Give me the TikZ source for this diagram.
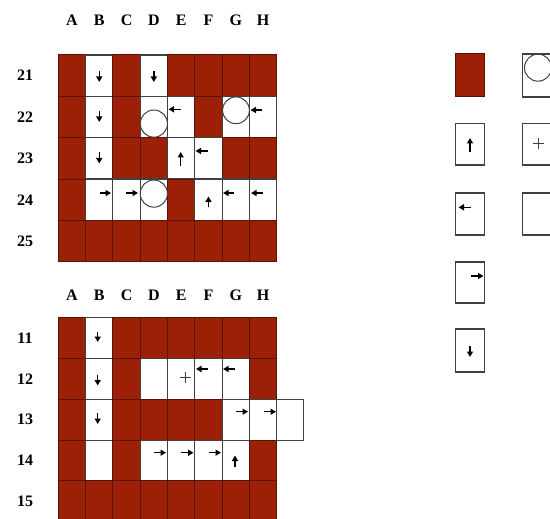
\documentclass[tikz,border=0pt]{standalone}
\usepackage{fontspec}
\setmainfont{Liberation Serif}[BoldFont={Liberation Serif Bold}]
\usetikzlibrary{arrows.meta}
\definecolor{brick}{RGB}{155,32,6}
\definecolor{brickline}{RGB}{85,20,10}
\definecolor{gline}{RGB}{65,65,65}
\begin{document}
\begin{tikzpicture}[x=1pt,y=-1pt,
  cellb/.style={fill=brick,draw=brickline,line width=1pt},
  cellw/.style={fill=white,draw=gline,line width=1.1pt},
  legb/.style={fill=white,draw=gline,line width=1.4pt},
  arr/.style={line width=1.4pt,-{Triangle[length=5.5pt,width=6pt]}},
  circ/.style={draw=gline,line width=1pt},
  lab/.style={font=\bfseries\fontsize{16}{16}\selectfont,inner sep=0pt}]
\useasboundingbox (0,0) rectangle (550,519);
\clip (0,0) rectangle (550,519);
\def\cw{27.3}
% ---------- top grid ----------
\foreach \row [count=\j from 0] in {{b,w,b,w,b,b,b,b},{b,w,b,w,w,b,w,w},{b,w,b,b,w,w,b,b},{b,w,w,w,b,w,w,w},{b,b,b,b,b,b,b,b}}{
  \foreach \t [count=\i from 0] in \row {
    \draw[cell\t] ({58.3+\i*\cw},{55+\j*41.35}) rectangle ++(\cw,41.35);
  }
}
% ---------- bottom grid ----------
\foreach \row [count=\j from 0] in {{b,w,b,b,b,b,b,b},{b,w,b,w,w,w,w,b},{b,w,b,b,b,b,w,w},{b,w,b,w,w,w,w,b},{b,b,b,b,b,b,b,b}}{
  \foreach \t [count=\i from 0] in \row {
    \draw[cell\t] ({58.3+\i*\cw},{317.7+\j*40.8}) rectangle ++(\cw,40.8);
  }
}
\draw[cellw] (276.7,399.3) rectangle (303.3,440.1);
% ---------- labels ----------
\foreach \l [count=\i from 0] in {A,B,C,D,E,F,G,H}{
  \node[lab] (top\l) at ({71.95+\i*\cw},20) {\l};
  \node[lab] (bot\l) at ({71.95+\i*\cw},295) {\l};
}
\foreach \n [count=\j from 0] in {21,22,23,24,25}{
  \node[lab] (row\n) at (25,{75.7+\j*41.35}) {\n};
}
\foreach \n [count=\j from 0] in {11,12,13,14,15}{
  \node[lab] (row\n) at (25,{338.1+\j*40.8}) {\n};
}
% ---------- top grid marks ----------
\draw[circ] (153.85,123.6) circle (13.6);
\draw[circ] (236,110.3) circle (13.4);
\draw[circ] (153.85,193.6) circle (13.6);
\draw[arr] (99.25,71) -- (99.25,82);
\draw[arr] (153.85,71) -- (153.85,82);
\draw[arr] (99.25,111) -- (99.25,122);
\draw[arr] (99.25,152.5) -- (99.25,163.5);
\draw[arr] (180.5,109.3) -- (168.5,109.3);
\draw[arr] (262,110) -- (250.5,110);
\draw[arr] (207.5,151) -- (195.5,151);
\draw[arr] (180.7,166.5) -- (180.7,152);
\draw[arr] (99.5,193) -- (111,193);
\draw[arr] (126,193) -- (138,193);
\draw[arr] (208.45,207.5) -- (208.45,196.5);
\draw[arr] (234,193) -- (223,193);
\draw[arr] (262.5,193) -- (251,193);
% ---------- bottom grid marks ----------
\draw[arr] (97.7,332) -- (97.7,342);
\draw[arr] (97.7,374.5) -- (97.7,385.5);
\draw[arr] (97.7,413) -- (97.7,424);
\draw[arr] (208,369) -- (196,369);
\draw[arr] (235,369) -- (223,369);
\draw[arr] (236,411.7) -- (248,411.7);
\draw[arr] (264,411.7) -- (276,411.7);
\draw[arr] (153.5,452.7) -- (166,452.7);
\draw[arr] (181,452.7) -- (193.5,452.7);
\draw[arr] (209,452.7) -- (221,452.7);
\draw[arr] (235,467) -- (235,455.5);
\draw[gline,line width=1pt] (179.5,377.3) -- (190.5,377.3) (185,371.8) -- (185,382.8);
% ---------- legend ----------
\draw[cellb,line width=1pt] (455.7,54) rectangle (484.3,97);
\draw[legb] (522.7,54) rectangle (551.3,97);
\draw[circ] (538,67.7) circle (13.5);
\draw[legb] (455.7,123.3) rectangle (484.3,165);
\draw[arr] (470,152) -- (470,138);
\draw[legb] (522.7,123.3) rectangle (551.3,165);
\draw[gline,line width=1pt] (533,143.5) -- (544,143.5) (538.5,138) -- (538.5,149);
\draw[legb] (455.7,193) rectangle (484.3,235);
\draw[arr] (471,207.3) -- (458.5,207.3);
\draw[legb] (522.7,193) rectangle (551.3,235);
\draw[legb] (455.7,262) rectangle (484.3,303);
\draw[arr] (471,276) -- (483.5,276);
\draw[legb] (455.7,329) rectangle (484.3,372);
\draw[arr] (470,346) -- (470,357);
\end{tikzpicture}
\end{document}
